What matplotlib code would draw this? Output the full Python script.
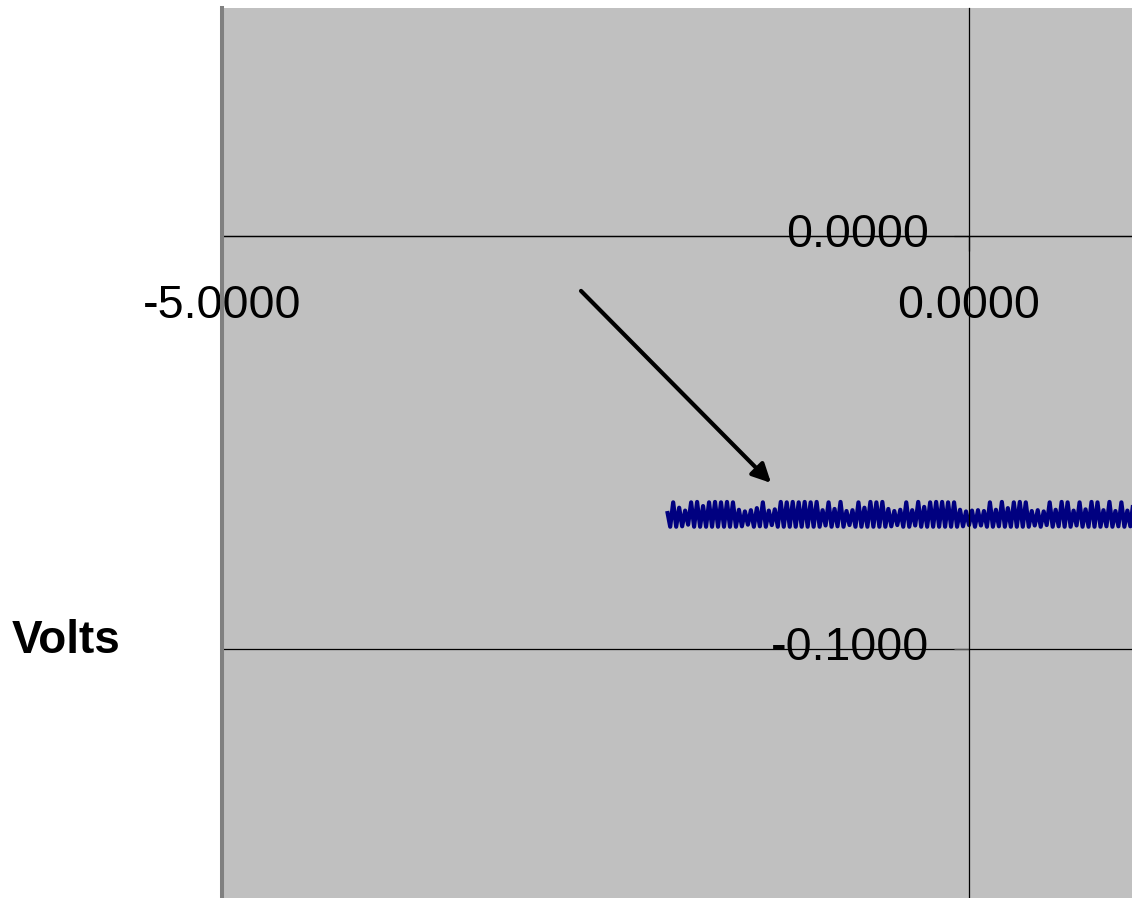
import numpy as np
import matplotlib
matplotlib.use("Agg")
import matplotlib.pyplot as plt
from matplotlib.transforms import ScaledTranslation

plt.rcParams['font.family'] = ['Liberation Sans', 'DejaVu Sans']

t0 = -2.02
dt = 0.02
volts = [
    -0.0666, -0.0704, -0.0645, -0.0704, -0.0658, -0.0703, -0.0665, -0.0699, -0.0645, -0.0704,
    -0.0644, -0.0704, -0.0654, -0.0704, -0.0645, -0.0704, -0.0644, -0.0704, -0.0645, -0.0704,
    -0.0644, -0.0704, -0.0645, -0.0704, -0.0663, -0.0703, -0.0667, -0.0699, -0.0664, -0.0704,
    -0.0659, -0.0703, -0.0645, -0.0704, -0.0665, -0.0700, -0.0662, -0.0704, -0.0644, -0.0704,
    -0.0645, -0.0704, -0.0644, -0.0704, -0.0645, -0.0704, -0.0644, -0.0704, -0.0645, -0.0704,
    -0.0644, -0.0704, -0.0664, -0.0701, -0.0645, -0.0704, -0.0661, -0.0703, -0.0644, -0.0704,
    -0.0666, -0.0700, -0.0664, -0.0704, -0.0645, -0.0704, -0.0658, -0.0704, -0.0644, -0.0704,
    -0.0645, -0.0704, -0.0644, -0.0704, -0.0661, -0.0703, -0.0666, -0.0700, -0.0663, -0.0704,
    -0.0645, -0.0704, -0.0664, -0.0701, -0.0644, -0.0704, -0.0656, -0.0704, -0.0645, -0.0704,
    -0.0644, -0.0704, -0.0644, -0.0704, -0.0645, -0.0704, -0.0645, -0.0704, -0.0663, -0.0703,
    -0.0667, -0.0700, -0.0665, -0.0704, -0.0664, -0.0701, -0.0666, -0.0704, -0.0645, -0.0704,
    -0.0663, -0.0703, -0.0644, -0.0704, -0.0659, -0.0704, -0.0645, -0.0704, -0.0644, -0.0704,
    -0.0645, -0.0704, -0.0666, -0.0701, -0.0664, -0.0704, -0.0667, -0.0700, -0.0645, -0.0704,
    -0.0663, -0.0703, -0.0644, -0.0704, -0.0645, -0.0704, -0.0665, -0.0701, -0.0645, -0.0704,
    -0.0662, -0.0704, -0.0644, -0.0704, -0.0645, -0.0704, -0.0664, -0.0703, -0.0644, -0.0704,
    -0.0666, -0.0703, -0.0645, -0.0704, -0.0665, -0.0703, -0.0645,
]
times = t0 + dt * np.arange(len(volts))

x_ticks = [-5.0, 0.0]
y_ticks = [0.0, -0.1]
x_limits = (-5.0, 1.091)
y_limits = (-0.1603, 0.0552)

# arrow pointing at the trace
arrow_start = (-2.597, -0.0133)
arrow_end = (-1.325, -0.0598)

fig = plt.figure(figsize=(11.32, 8.98), dpi=100)
ax = fig.add_axes([222 / 1132, 0, 910 / 1132, 890 / 898])
ax.set_facecolor('#C0C0C0')

ax.plot(times, volts, color='#000080', lw=3.0, solid_joinstyle='round',
        solid_capstyle='butt')

ax.set_xlim(*x_limits)
ax.set_ylim(*y_limits)

# axes cross at the origin, excel style
ax.spines['bottom'].set_position(('data', 0))
ax.spines['left'].set_position(('data', 0))
ax.spines['top'].set_visible(False)
ax.spines['right'].set_visible(False)
for s in ('bottom', 'left'):
    ax.spines[s].set_color('black')
    ax.spines[s].set_linewidth(0.9)
ax.axvline(x_limits[0], color='#808080', lw=2.9, clip_on=False, zorder=5)

ax.set_xticks(x_ticks)
ax.set_xticklabels(['%.4f' % v for v in x_ticks])
ax.set_yticks(y_ticks)
ax.set_yticklabels(['%.4f' % v for v in y_ticks])
ax.tick_params(axis='x', direction='out', length=10.5, width=0.9, pad=24,
               labelsize=33.5, colors='black')
ax.tick_params(axis='y', direction='out', length=10.5, width=0.9, pad=18.5,
               labelsize=33.5, color='#555555', labelcolor='black')
ax.yaxis.grid(True, color='black', lw=0.9)
ax.set_axisbelow(True)

# excel draws the value labels a touch above their gridline
lift = ScaledTranslation(0, 6 / 100, fig.dpi_scale_trans)
for lab in ax.get_yticklabels():
    lab.set_transform(lab.get_transform() + lift)

ax.annotate('', xy=arrow_end, xytext=arrow_start,
            arrowprops=dict(arrowstyle='-|>', lw=3, color='black',
                            mutation_scale=28, shrinkA=0, shrinkB=0))

fig.text(12 / 1132, 1 - 641 / 898, 'Volts', fontsize=33, fontweight='bold',
         ha='left', va='center')

fig.savefig('out.png', dpi=100)
